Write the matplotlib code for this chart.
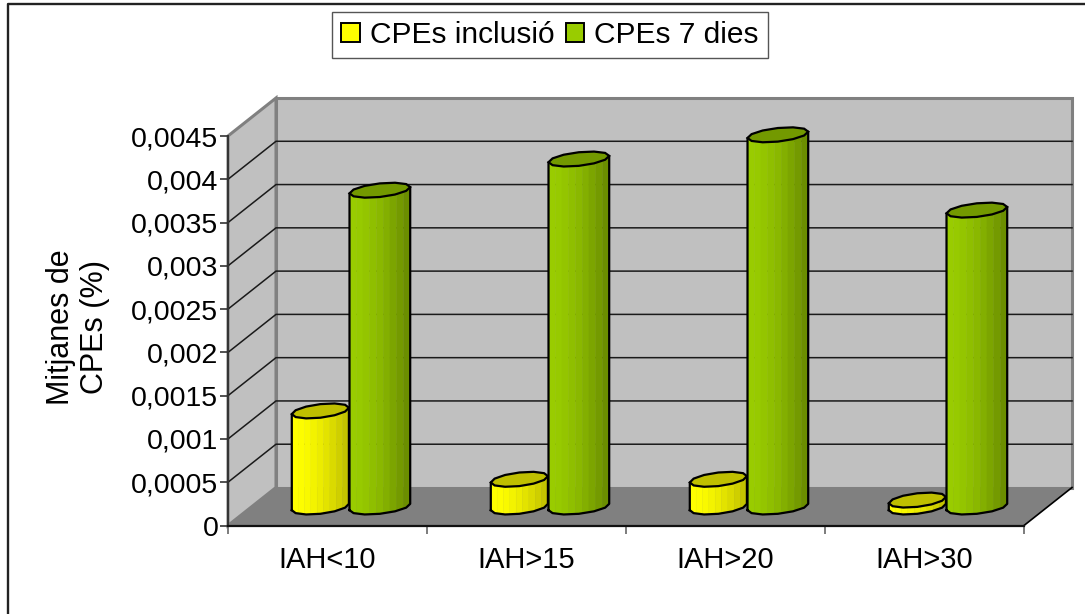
import numpy as np
import matplotlib
matplotlib.use("Agg")
import matplotlib.pyplot as plt
from matplotlib.colors import to_rgb
from matplotlib.lines import Line2D
from matplotlib.patches import Patch, Polygon

categories = ["IAH<10", "IAH>15", "IAH>20", "IAH>30"]
series_names = ["CPEs inclusió", "CPEs 7 dies"]
cpe_inclusio = [0.00111, 0.00032, 0.00032, 0.00008]
cpe_7dies = [0.00366, 0.00402, 0.00430, 0.00343]
y_ticks = [0, 0.0005, 0.001, 0.0015, 0.002, 0.0025, 0.003, 0.0035, 0.004, 0.0045]
y_ticklabels = ["0", "0,0005", "0,001", "0,0015", "0,002", "0,0025", "0,003", "0,0035", "0,004", "0,0045"]
ylabel = "Mitjanes de\nCPEs (%)"

W, H = 1085, 614
plt.rcParams["font.family"] = ["Liberation Sans", "DejaVu Sans"]
fig = plt.figure(figsize=(W / 100, H / 100), dpi=100)
L, R, T, B = 228, 1024, 136, 525.5
ax = fig.add_axes([L / W, 1 - B / H, (R - L) / W, (B - T) / H])
ax.set_xlim(0, 4)
ax.set_ylim(0, 0.0045)
ax.patch.set_visible(False)

ux = 4 / (R - L)            # data units per pixel, x
uy = 0.0045 / (B - T)       # data units per pixel, y
DX, DY = 48 * ux, 38 * uy   # depth offset of the back wall
TOP = 0.0045

wall = "#C0C0C0"
edge = "#808080"
# back wall, side wall, floor
ax.add_patch(Polygon([(DX, DY), (4 + DX, DY), (4 + DX, TOP + DY), (DX, TOP + DY)],
                     fc=wall, ec=edge, lw=2.2, clip_on=False, zorder=1))
ax.add_patch(Polygon([(0, 0), (DX, DY), (DX, TOP + DY), (0, TOP)],
                     fc=wall, ec=edge, lw=2.2, clip_on=False, zorder=1))
ax.add_patch(Polygon([(0, 0), (4, 0), (4 + DX, DY), (DX, DY)],
                     fc=edge, ec="none", clip_on=False, zorder=1))
for t in y_ticks[1:-1]:
    ax.plot([0, DX, 4 + DX], [t, t + DY, t + DY], color="#1a1a1a", lw=1.1,
            clip_on=False, zorder=2, solid_joinstyle="miter")
ax.plot([4, 4 + DX], [0, DY], color="black", lw=1.2, clip_on=False, zorder=2)


def cap(cx, cy, half_w, n=12):
    """Sheared ellipse outline: cap of a faceted cylinder (data units)."""
    b = 7.5 * uy
    s = 0.42 * half_w
    a = np.sqrt(half_w ** 2 - s ** 2)
    phi = np.arctan2(s, a)
    t = np.pi + phi + np.linspace(0, 2 * np.pi, n + 1)
    return cx + a * np.cos(t) + s * np.sin(t), cy + b * np.sin(t)


def cylinder(x0, x1, value, c_light, c_dark, c_top, z):
    cx = (x0 + x1) / 2 + DX / 2
    half = (x1 - x0) / 2
    base = DY / 2 - 0.5 * uy
    xc, yc = cap(cx, 0, half)
    mid = (len(xc) - 1) // 2 + 1
    front_x, front_y = xc[:mid], yc[:mid]
    xs = np.linspace(front_x[0], front_x[-1], 10)
    fy = np.interp(xs, front_x, front_y)
    c0, c1 = np.array(to_rgb(c_light)), np.array(to_rgb(c_dark))
    for i in range(len(xs) - 1):
        f = (i / (len(xs) - 2)) ** 1.6
        col = c0 * (1 - f) + c1 * f
        ax.add_patch(Polygon([(xs[i], base + fy[i]), (xs[i + 1], base + fy[i + 1]),
                              (xs[i + 1], base + value + fy[i + 1]), (xs[i], base + value + fy[i])],
                             fc=col, ec=col, lw=0.3, clip_on=False, zorder=z))
    outline_x = np.r_[front_x, front_x[-1], front_x[0], front_x[0]]
    outline_y = np.r_[base + front_y, base + value + front_y[-1], base + value + front_y[0], base + front_y[0]]
    ax.plot(outline_x, outline_y, color="black", lw=1.6, clip_on=False, zorder=z + 0.1)
    ax.add_patch(Polygon(np.c_[xc, base + value + yc], fc=c_top, ec="black", lw=1.6,
                         clip_on=False, zorder=z + 0.2))


for i, (v1, v2) in enumerate(zip(cpe_inclusio, cpe_7dies)):
    z = 3 + i
    cylinder(i + 0.2, i + 0.487, v1, "#FFFF00", "#C4C400", "#BFBF00", z)
    cylinder(i + 0.49, i + 0.795, v2, "#99CC00", "#6B8E00", "#739900", z + 0.4)

for s in ("top", "right"):
    ax.spines[s].set_visible(False)
ax.spines["left"].set_linewidth(1.4)
ax.spines["left"].set_color("#333333")
ax.spines["left"].set_zorder(2.5)
ax.spines["bottom"].set_linewidth(1.6)
ax.spines["bottom"].set_color("#111111")
ax.spines["bottom"].set_zorder(2.5)

ax.set_yticks(y_ticks)
ax.set_yticklabels(y_ticklabels, fontsize=20.5)
ax.tick_params(axis="y", length=5.5, width=1.2, pad=1.5, color="#333333")
ax.set_xticks(range(5))
ax.set_xticklabels([])
ax.tick_params(axis="x", length=5.5, width=1.2, color="#666666")
ax.set_xticks(np.arange(4) + 0.5, minor=True)
ax.set_xticklabels(categories, minor=True, fontsize=21)
ax.tick_params(axis="x", which="minor", length=0, pad=14.5)
ax.set_ylabel(ylabel, fontsize=22, labelpad=15, linespacing=1.2, y=0.51)

# Chart frame (left and top only)
fig.add_artist(Line2D([8 / W, 8 / W, 1], [0, 1 - 4 / H, 1 - 4 / H], color="#222222", lw=1.7))

handles = [Patch(fc="#FFFF00", ec="black", lw=1.4), Patch(fc="#99CC00", ec="black", lw=1.4)]
fig.legend(handles, series_names, loc="center", bbox_to_anchor=(550 / W, 1 - 35 / H),
           ncol=2, fontsize=21.5, frameon=True, fancybox=False, edgecolor="#555555",
           framealpha=1, handlelength=0.63, handleheight=0.62, handletextpad=0.33,
           columnspacing=0.37, borderpad=0.3, borderaxespad=0)

fig.savefig("out.png", dpi=100, facecolor="white")
